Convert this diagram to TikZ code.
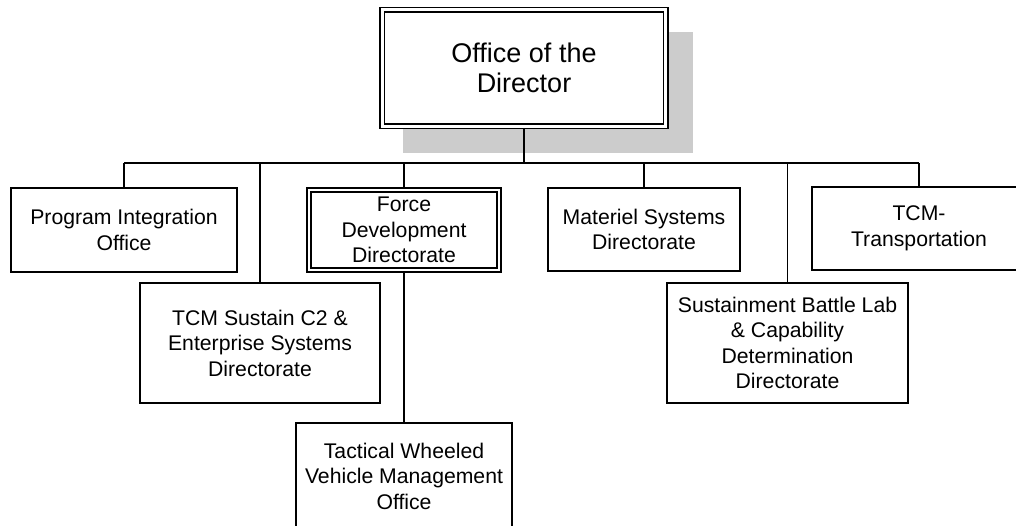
\documentclass[tikz,border=0pt]{standalone}
\usepackage{fontspec}
\setmainfont{Liberation Sans}
\begin{document}
\begin{tikzpicture}[x=1pt,y=-1pt,line width=1.4pt,
  box/.style={draw, rectangle, inner sep=0pt, align=center, fill=white,
    font=\fontsize{21.2}{25.5}\selectfont},
  dbox/.style={box, double, double distance=2.8pt},
  conn/.style={line width=1.4pt},
  shadowbox/.style={fill=black!20, draw=none}]
\useasboundingbox (0,0) rectangle (1016,525);
\clip (0,0) rectangle (1016,525);
% shadow of the director box
\fill[shadowbox] (403,32) rectangle (693,153);
% nodes
\node[dbox, minimum width=283.5pt, minimum height=116.5pt,
  font=\fontsize{27}{30}\selectfont] (dir) at (524,68) {Office of the\\Director};
\node[box, minimum width=226pt, minimum height=84pt] (pio) at (124,230) {Program Integration\\Office};
\node[dbox, minimum width=190pt, minimum height=80pt] (fdd) at (404,230) {Force\\Development\\Directorate};
\node[box, minimum width=192pt, minimum height=83pt] (msd) at (644,229.5) {Materiel Systems\\Directorate};
\node[box, minimum width=214pt, minimum height=83pt] (tt) at (919,228.5) {TCM-\\Transportation};
\node[box, minimum width=240pt, minimum height=120pt] (tcs) at (260,343) {TCM Sustain C2 \&\\Enterprise Systems\\Directorate};
\node[box, minimum width=241pt, minimum height=120pt] (sbl) at (787.5,343) {Sustainment Battle Lab\\\& Capability\\Determination\\Directorate};
\node[box, minimum width=216pt, minimum height=106pt] (tw) at (404,476) {Tactical Wheeled\\Vehicle Management\\Office};
% connectors
\coordinate (bar) at (524,163);
\draw[conn, shorten <=2pt] (dir.south) -- (bar);
\draw[conn] (pio.north |- bar) -- (tt.north |- bar);
\draw[conn] (pio.north) -- (pio.north |- bar);
\draw[conn, shorten <=2pt] (fdd.north) -- (fdd.north |- bar);
\draw[conn] (msd.north) -- (msd.north |- bar);
\draw[conn] (tt.north) -- (tt.north |- bar);
\draw[conn] (tcs.north) -- (tcs.north |- bar);
\draw[conn] (sbl.north) -- (sbl.north |- bar);
\draw[conn, shorten <=2pt] (fdd.south) -- (tw.north);
\end{tikzpicture}
\end{document}
